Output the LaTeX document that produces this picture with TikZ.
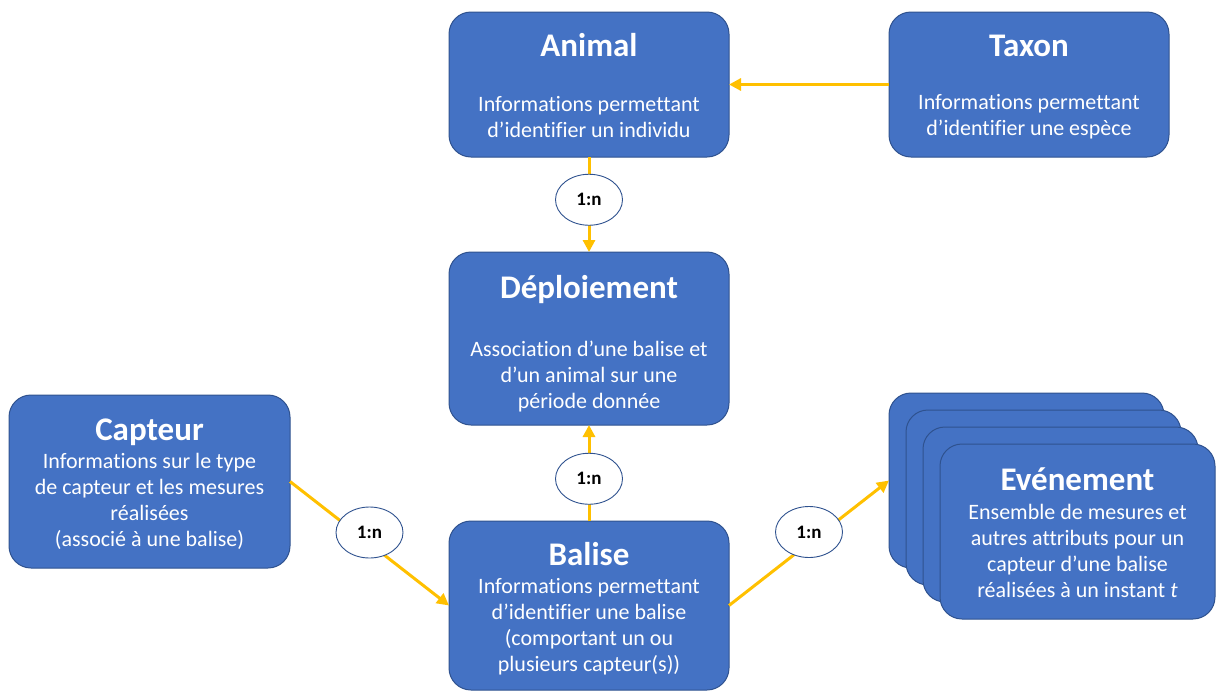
\documentclass[tikz,border=0pt]{standalone}
\usepackage{fontspec}
\setmainfont{Carlito}[Ligatures=NoCommon]
\usetikzlibrary{arrows.meta,shapes.geometric}
\definecolor{boxfill}{HTML}{4472C4}
\definecolor{boxline}{HTML}{2F528F}
\definecolor{link}{HTML}{FFC000}

\begin{document}
\begin{tikzpicture}[x=1pt,y=-1pt,
  box/.style={draw=boxline, line width=1pt, fill=boxfill, rounded corners=22pt,
              inner sep=0pt, outer sep=0pt},
  ttl/.style={text=white, anchor=base, inner sep=0pt, font=\fontsize{33}{38}\selectfont\bfseries},
  body/.style={text=white, align=center, inner sep=0pt, font=\fontsize{22}{26}\selectfont},
  rel/.style={ellipse, draw=boxline, line width=0.9pt, fill=white, minimum width=67pt,
              minimum height=51pt, inner sep=0pt, text=black,
              font=\fontsize{19}{20}\selectfont\bfseries},
  arr/.style={draw=link, line width=3pt, -{Triangle[length=12pt,width=12pt]}}]
\useasboundingbox (0,0) rectangle (1216,691);

% Animal
\node[box, minimum width=280pt, minimum height=145pt] (animal) at (589,84.5) {};
\node[ttl] (animal-t) at (589,56) {Animal};
\node[body] (animal-b) at (589,117) {Informations permettant\\d’identifier un individu};

% Taxon
\node[box, minimum width=280pt, minimum height=145pt] (taxon) at (1029,84.5) {};
\node[ttl] (taxon-t) at (1029,56) {Taxon};
\node[body] (taxon-b) at (1029,117) {Informations permettant\\d’identifier une espèce};

% Déploiement
\node[box, minimum width=280pt, minimum height=173pt] (deploy) at (589,338.5) {};
\node[ttl] (deploy-t) at (589,298) {Déploiement};
\node[body] (deploy-b) at (589,377) {Association d’une balise et\\d’un animal sur une\\période donnée};

% Capteur
\node[box, minimum width=281pt, minimum height=173pt] (capteur) at (149.5,481.5) {};
\node[ttl] (capteur-t) at (149.5,440) {Capteur};
\node[body] (capteur-b) at (149.5,501) {Informations sur le type\\de capteur et les mesures\\réalisées\\(associé à une balise)};

% Balise
\node[box, minimum width=280pt, minimum height=169pt] (balise) at (589,605.5) {};
\node[ttl] (balise-t) at (589,565) {Balise};
\node[body] (balise-b) at (589,627) {Informations permettant\\d’identifier une balise\\(comportant un ou\\plusieurs capteur(s))};

% Evénement: a stack of four cards
\node[box, minimum width=275pt, minimum height=175pt] (ev1) at (1026.5,480.5) {};
\node[box, minimum width=275pt, minimum height=175pt] (ev2) at (1043.5,497.5) {};
\node[box, minimum width=275pt, minimum height=175pt] (ev3) at (1060.5,514.5) {};
\node[box, minimum width=275pt, minimum height=175pt] (ev4) at (1077.5,531.5) {};
\node[ttl] (ev-t) at (1077.5,490) {Evénement};
\node[body] (ev-b) at (1077.5,551) {Ensemble de mesures et\\autres attributs pour un\\capteur d’une balise\\réalisées à un instant \textit{t}};

% Links
\draw[arr] (taxon.west) -- (animal.east);
\draw[arr] (animal.south) -- node[rel, pos=0.45] (r1) {1:n} (deploy.north);
\draw[arr] (balise.north) -- node[rel, pos=0.44] (r2) {1:n} (deploy.south);
\draw[arr] (capteur.east) -- node[rel, pos=0.5, yshift=11pt] (r3) {1:n} (balise.west);
\draw[arr] (balise.east) -- node[rel, pos=0.5, yshift=11pt] (r4) {1:n} (ev1.west);
\end{tikzpicture}
\end{document}
